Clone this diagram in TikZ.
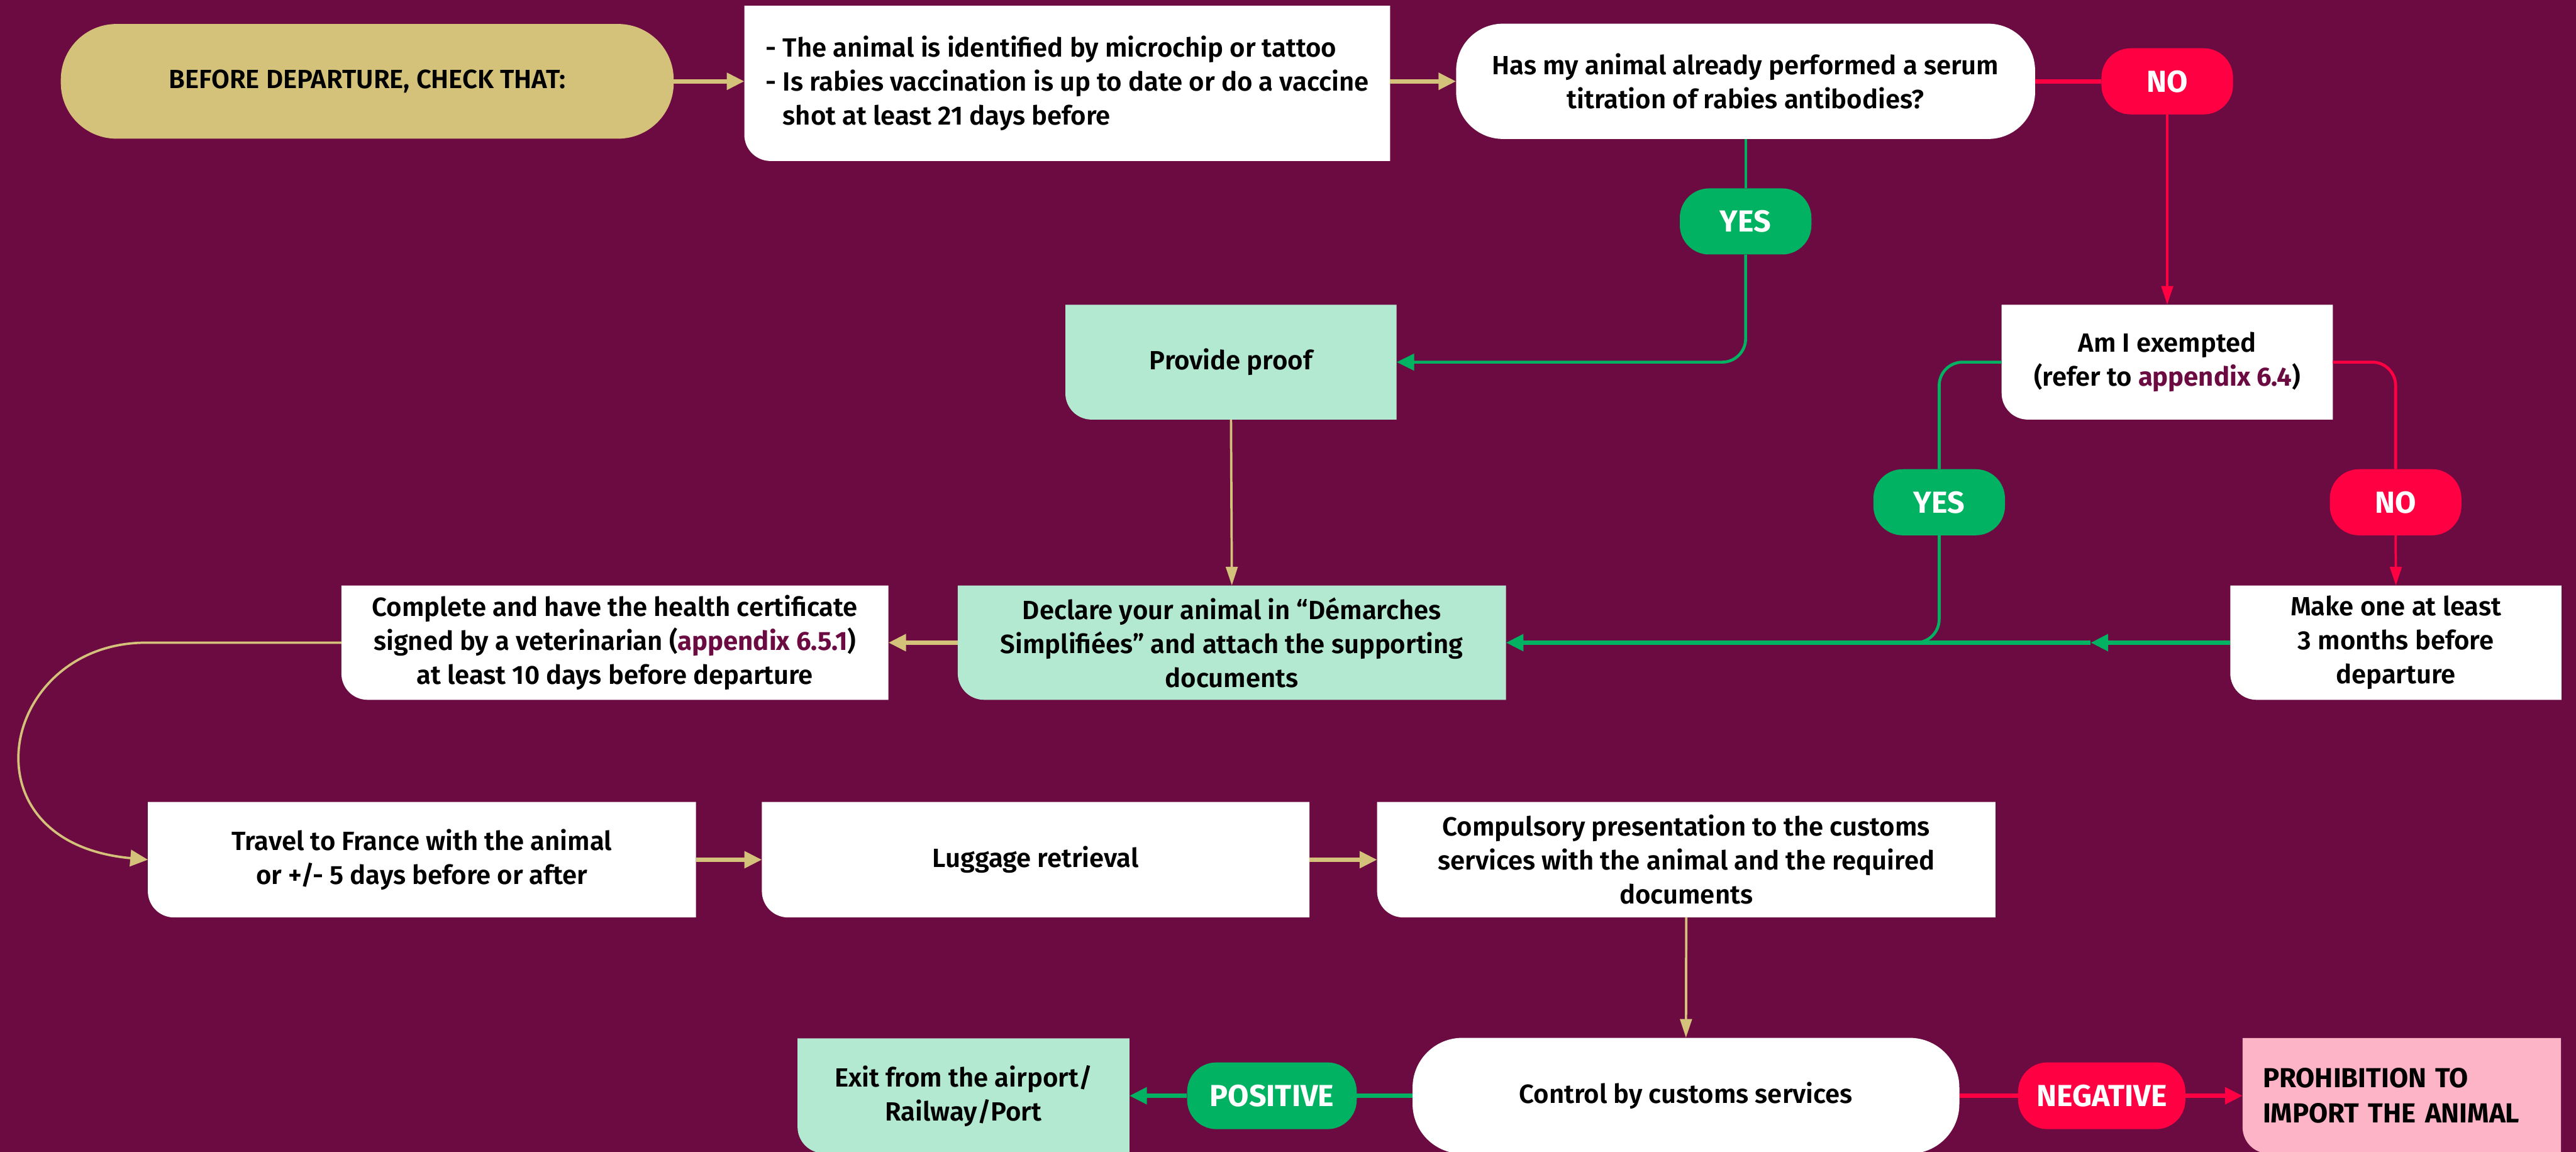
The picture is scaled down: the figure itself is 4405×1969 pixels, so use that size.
\documentclass[tikz,border=0pt]{standalone}
\usepackage{fontspec}
\setmainfont{Fira Sans}[UprightFont={* SemiBold}, BoldFont={* Bold}]
\usetikzlibrary{arrows.meta}

\definecolor{wine}{HTML}{6C0B41}
\definecolor{sand}{HTML}{D4C27B}
\definecolor{mint}{HTML}{B3E8D1}
\definecolor{blush}{HTML}{FDB4C6}
\definecolor{okgreen}{HTML}{00B261}
\definecolor{nored}{HTML}{FF0042}

\pgfdeclarelayer{canvas}
\pgfdeclarelayer{cards}
\pgfsetlayers{canvas,cards,main}

\tikzset{
  base/.style={font=\fontsize{45}{58}\selectfont, align=center, inner sep=0pt, text=black},
  tag/.style={base, font=\fontsize{52}{60}\bfseries, text=white, rounded corners=50pt,
              minimum width=225pt, minimum height=113pt},
  yestag/.style={tag, fill=okgreen},
  notag/.style={tag, fill=nored},
  link/.style={line width=7pt},
  mid/.style={line width=5pt},
  wire/.style={line width=4pt},
  bighead/.style={-{Triangle[length=30pt,width=28pt]}},
  slimhead/.style={-{Triangle[length=32pt,width=20pt]}},
}

% card with only its lower left corner rounded, filled behind the text
\newcommand\cardfill[2]{%
  \begin{pgfonlayer}{cards}
    \fill[#2] (#1.north west) -- (#1.north east) -- (#1.south east)
      -- ([xshift=45pt]#1.south west)
      .. controls ([xshift=20pt]#1.south west) and ([yshift=20pt]#1.south west)
      .. ([yshift=45pt]#1.south west) -- cycle;
  \end{pgfonlayer}}

\begin{document}
\begin{tikzpicture}[x=1pt,y=-1pt]
\useasboundingbox (0,0) rectangle (4405,1969);
\begin{pgfonlayer}{canvas}
  \fill[wine] (0,0) rectangle (4405,1969);
\end{pgfonlayer}

% ---- top row
\node[base, fill=sand, rounded corners=95pt, minimum width=1048pt, minimum height=196pt]
  (start) at (628,139) {BEFORE DEPARTURE, CHECK THAT:};
\node[base, align=left, minimum width=1104pt, minimum height=265pt]
  (ident) at (1825,142.5)
  {- The animal is identified by microchip or tattoo\\
   - Is rabies vaccination is up to date or do a vaccine\\
   \phantom{- }shot at least 21 days before};
\cardfill{ident}{white}
\node[base, fill=white, rounded corners=80pt, minimum width=990pt, minimum height=197pt]
  (q1) at (2985,139) {Has my animal already performed a serum\\titration of rabies antibodies?};
\node[notag] (no1) at (3706,139) {NO};
\node[yestag] (yes1) at (2985,378.5) {YES};

% ---- second row
\node[base, minimum width=566pt, minimum height=196pt] (proof) at (2105,619) {Provide proof};
\cardfill{proof}{mint}
\node[base, minimum width=566pt, minimum height=196pt] (exempt) at (3706,619)
  {Am I exempted\\(refer to \textcolor{wine}{\bfseries appendix 6.4})};
\cardfill{exempt}{white}
\node[yestag] (yes2) at (3316,858.5) {YES};
\node[notag] (no2) at (4096.5,858.5) {NO};

% ---- third row
\node[base, minimum width=935pt, minimum height=195pt] (health) at (1051.5,1098.5)
  {Complete and have the health certificate\\
   signed by a veterinarian (\textcolor{wine}{\bfseries appendix 6.5.1})\\
   at least 10 days before departure};
\cardfill{health}{white}
\node[base, minimum width=937pt, minimum height=195pt] (declare) at (2106.5,1098.5)
  {Declare your animal in “Démarches\\Simplifiées” and attach the supporting\\documents};
\cardfill{declare}{mint}
\node[base, minimum width=566pt, minimum height=195pt] (makeone) at (4097,1098.5)
  {Make one at least\\3 months before\\departure};
\cardfill{makeone}{white}

% ---- fourth row
\node[base, minimum width=937pt, minimum height=197pt] (travel) at (721.5,1469.5)
  {Travel to France with the animal\\or +/- 5 days before or after};
\cardfill{travel}{white}
\node[base, minimum width=936pt, minimum height=197pt] (luggage) at (1771,1469.5)
  {Luggage retrieval};
\cardfill{luggage}{white}
\node[base, minimum width=1057pt, minimum height=197pt] (compulsory) at (2883.5,1469.5)
  {Compulsory presentation to the customs\\services with the animal and the required\\documents};
\cardfill{compulsory}{white}

% ---- bottom row
\node[base, minimum width=567pt, minimum height=196pt] (exit) at (1647.5,1873)
  {Exit from the airport/\\Railway/Port};
\cardfill{exit}{mint}
\node[yestag, minimum width=290pt, minimum height=114pt] (positive) at (2175,1873) {POSITIVE};
\node[base, fill=white, rounded corners=85pt, minimum width=935pt, minimum height=198pt]
  (control) at (2883,1873) {Control by customs services};
\node[notag, minimum width=286pt, minimum height=114pt] (negative) at (3594,1873) {NEGATIVE};
\node[base, font=\fontsize{47}{60}\bfseries, align=left, text width=475pt,
      minimum width=544pt, minimum height=197pt] (prohib) at (4107,1873)
  {PROHIBITION TO\\IMPORT THE ANIMAL};
\cardfill{prohib}{blush}

% ---- connectors
\draw[link, sand, bighead] (start.east) -- (start.east -| ident.west);
\draw[link, sand, bighead] (ident.east |- q1.west) -- (q1.west);
\draw[link, nored] (q1.east) -- (no1.west);
\draw[wire, nored, slimhead] (no1.south) -- (exempt.north);
\draw[wire, okgreen] (q1.south) -- (yes1.north);
\draw[mid, okgreen, bighead, rounded corners=40pt] (yes1.south) |- (proof.east);

\draw[mid, okgreen, rounded corners=40pt] (exempt.west) -| (yes2.north);
\draw[mid, nored, rounded corners=40pt] (exempt.east) -| (no2.north);
\draw[wire, nored, slimhead] (no2.south) -- (makeone.north);
\coordinate (merge) at (3575,1098.5);
\draw[mid, okgreen, rounded corners=40pt] (yes2.south) |- ([xshift=-60pt]yes2.south |- declare.east);
\draw[link, okgreen, bighead] (makeone.west) -- (merge);
\draw[link, okgreen, bighead] (merge) -- (declare.east);

\draw[wire, sand, slimhead] (proof.south) -- (declare.north);
\draw[link, sand, bighead] (declare.west) -- (health.east);
\draw[wire, sand, bighead] (health.west) -- (250,1098.5)
  .. controls (0,1098.5) and (-70,1440) .. (travel.west);

\draw[link, sand, bighead] (travel.east) -- (luggage.west);
\draw[link, sand, bighead] (luggage.east) -- (compulsory.west);
\draw[wire, sand, slimhead] (compulsory.south) -- (control.north);

\draw[link, okgreen] (control.west) -- (positive.east);
\draw[link, okgreen, bighead] (positive.west) -- (exit.east);
\draw[link, nored] (control.east) -- (negative.west);
\draw[link, nored, bighead] (negative.east) -- (prohib.west);
\end{tikzpicture}
\end{document}
